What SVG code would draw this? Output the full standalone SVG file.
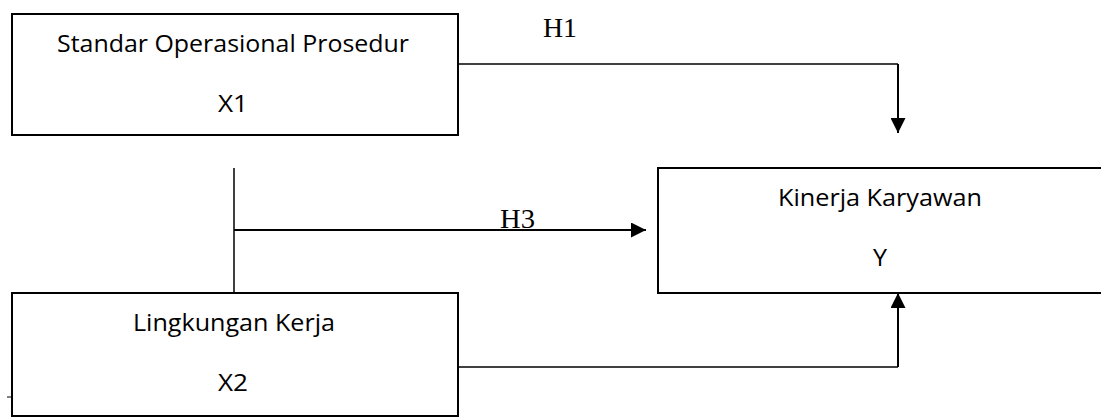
<svg xmlns="http://www.w3.org/2000/svg" width="1101" height="419" viewBox="0 0 1101 419">
<style>
.box{fill:#fff;stroke:#000;stroke-width:2}
.lbl{font-family:"Open Sans","Liberation Sans",sans-serif;font-size:23px;fill:#000;text-anchor:middle}
.h{font-family:"Liberation Serif","Times New Roman",serif;font-size:28px;fill:#000}
.con{fill:none;stroke:#000;stroke-width:1.5}
.cv{fill:none;stroke:#000;stroke-width:2}
</style>
<defs>
<marker id="ah" viewBox="0 0 10 10" refX="10" refY="5" markerWidth="15" markerHeight="15" markerUnits="userSpaceOnUse" orient="auto">
<path d="M0,0 L10,5 L0,10 Z" fill="#000"/>
</marker>
</defs>
<rect width="1101" height="419" fill="#fff"/>
<g id="connectors">
<polyline class="con" points="458,64 898,64"/>
<line class="cv" x1="898" y1="64" x2="898" y2="133" marker-end="url(#ah)"/>
<line class="con" x1="234" y1="168" x2="234" y2="293"/>
<line class="cv" x1="234" y1="230" x2="646" y2="230" marker-end="url(#ah)"/>
<polyline class="con" points="458,367 898,367"/>
<line class="cv" x1="898" y1="367" x2="898" y2="293" marker-end="url(#ah)"/>
<line stroke="#000" stroke-width="1" x1="7" y1="397" x2="12" y2="397"/>
</g>
<g id="label-h1"><text class="h" x="543" y="37" textLength="34" lengthAdjust="spacingAndGlyphs">H1</text></g>
<g id="label-h3"><text class="h" x="500" y="228" textLength="35" lengthAdjust="spacingAndGlyphs">H3</text></g>
<g id="node-x1">
<rect class="box" x="12" y="14" width="446" height="121"/>
<text class="lbl" x="233" y="52" textLength="352" lengthAdjust="spacingAndGlyphs">Standar Operasional Prosedur</text>
<text class="lbl" x="233" y="112" textLength="30" lengthAdjust="spacingAndGlyphs">X1</text>
</g>
<g id="node-y">
<rect class="box" x="658" y="168" width="460" height="125"/>
<text class="lbl" x="880" y="206" textLength="204" lengthAdjust="spacingAndGlyphs">Kinerja Karyawan</text>
<text class="lbl" x="880" y="266" textLength="14" lengthAdjust="spacingAndGlyphs">Y</text>
</g>
<g id="node-x2">
<rect class="box" x="12" y="293" width="446" height="123"/>
<text class="lbl" x="234" y="331" textLength="202" lengthAdjust="spacingAndGlyphs">Lingkungan Kerja</text>
<text class="lbl" x="233" y="391" textLength="30" lengthAdjust="spacingAndGlyphs">X2</text>
</g>
</svg>
